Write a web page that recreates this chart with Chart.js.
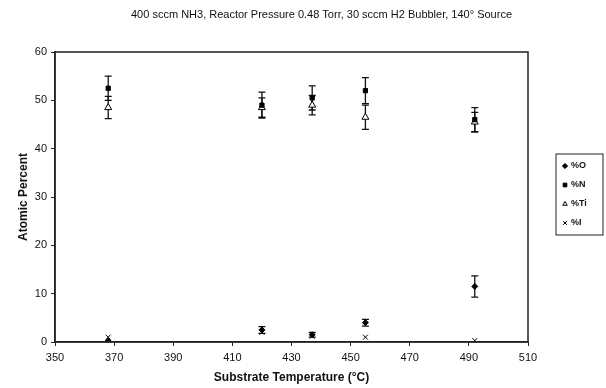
<!DOCTYPE html>
<html>
<head>
<meta charset="utf-8">
<script src="https://cdn.jsdelivr.net/npm/chart.js@4.4.0/dist/chart.umd.min.js"></script>
<style>
  body { margin: 0; background: #fff; }
  #wrap { width: 606px; height: 388px; }
</style>
</head>
<body>
<div id="wrap"><canvas id="chart" width="606" height="388"></canvas></div>
<script>
// Substrate temperatures (x) and composition values
const temps = [368, 420, 437, 455, 492];
const pctO = [0.2, 2.5, 1.5, 4.0, 11.5];
const errO = [0, 0.7, 0.5, 0.7, 2.2];
const pctN = [52.5, 49.0, 50.5, 52.0, 46.0];
const errN = [2.5, 2.7, 2.5, 2.7, 2.5];
const pctTi = [48.5, 48.5, 49.0, 46.5, 45.5];
const errTi = [2.3, 2.0, 2.0, 2.5, 2.0];
const pctI = [1.0, 2.0, 1.2, 1.0, 0.3];
const errI = [0, 0, 0, 0, 0];

const xTicks = [350, 370, 390, 410, 430, 450, 470, 490, 510];
const yTicks = [0, 10, 20, 30, 40, 50, 60];

const titleText = '400 sccm NH3, Reactor Pressure 0.48 Torr, 30 sccm H2 Bubbler, 140\u00b0 Source';
const xTitle = 'Substrate Temperature (\u00b0C)';
const yTitle = 'Atomic Percent';

const FONT = '"Liberation Sans", Arial, sans-serif';

function toPoints(vals) {
  return vals.map((v, i) => ({ x: temps[i], y: v }));
}

const seriesDefs = [
  { label: '%O', data: pctO, err: errO, style: 'rectRot', radius: 3, fill: '#000' },
  { label: '%N', data: pctN, err: errN, style: 'rect', radius: 3, fill: '#000' },
  { label: '%Ti', data: pctTi, err: errTi, style: 'triangle', radius: 4, fill: '#fff' },
  { label: '%I', data: pctI, err: errI, style: 'crossRot', radius: 3.5, fill: '#000' }
];

// error bars, frame, titles and legend box
const extras = {
  id: 'extras',
  beforeDatasetsDraw(chart) {
    const ctx = chart.ctx;
    const x = chart.scales.x, y = chart.scales.y;
    ctx.save();
    ctx.strokeStyle = '#111';
    ctx.lineWidth = 1.3;
    chart.data.datasets.forEach(ds => {
      ds.errors.forEach((e, i) => {
        if (!e) return;
        const px = x.getPixelForValue(ds.data[i].x);
        const top = y.getPixelForValue(ds.data[i].y + e);
        const bot = y.getPixelForValue(ds.data[i].y - e);
        ctx.beginPath();
        ctx.moveTo(px, top); ctx.lineTo(px, bot);
        ctx.moveTo(px - 3.5, top); ctx.lineTo(px + 3.5, top);
        ctx.moveTo(px - 3.5, bot); ctx.lineTo(px + 3.5, bot);
        ctx.stroke();
      });
    });
    ctx.restore();
  },
  afterDraw(chart) {
    const ctx = chart.ctx;
    const a = chart.chartArea;
    ctx.save();
    // plot frame
    ctx.strokeStyle = '#222';
    ctx.lineWidth = 1.5;
    ctx.strokeRect(a.left, a.top, a.right - a.left, a.bottom - a.top);

    ctx.fillStyle = '#111';
    ctx.textBaseline = 'middle';
    // chart title
    ctx.font = '11px ' + FONT;
    ctx.textAlign = 'left';
    ctx.fillText(titleText, 131, 15);
    // x title
    ctx.font = 'bold 12px ' + FONT;
    ctx.textAlign = 'center';
    ctx.fillText(xTitle, (a.left + a.right) / 2, 378);
    // y title
    ctx.save();
    ctx.translate(24, (a.top + a.bottom) / 2);
    ctx.rotate(-Math.PI / 2);
    ctx.fillText(yTitle, 0, 0);
    ctx.restore();

    // legend box
    const lx = 556, ly = 154, lw = 47, lh = 81;
    ctx.strokeStyle = '#222';
    ctx.lineWidth = 1;
    ctx.strokeRect(lx, ly, lw, lh);
    ctx.font = 'bold 9px ' + FONT;
    ctx.textAlign = 'left';
    seriesDefs.forEach((s, i) => {
      const cy = ly + 12 + i * 19;
      ctx.fillStyle = s.fill;
      ctx.strokeStyle = '#000';
      ctx.lineWidth = 1;
      Chart.helpers.drawPoint(ctx, { pointStyle: s.style, radius: 2.6, borderWidth: 1 }, lx + 9, cy);
      ctx.fillStyle = '#111';
      ctx.fillText(s.label, lx + 15, cy);
    });
    ctx.restore();
  }
};

new Chart(document.getElementById('chart'), {
  type: 'scatter',
  data: {
    datasets: seriesDefs.map(s => ({
      label: s.label,
      data: toPoints(s.data),
      errors: s.err,
      pointStyle: s.style,
      pointRadius: s.radius,
      pointHoverRadius: s.radius,
      backgroundColor: s.fill,
      borderColor: '#000',
      borderWidth: 1
    }))
  },
  options: {
    responsive: false,
    animation: false,
    layout: { padding: { top: 52, right: 78, left: 0, bottom: 0 } },
    plugins: {
      legend: { display: false },
      title: { display: false },
      tooltip: { enabled: false }
    },
    scales: {
      x: {
        type: 'linear',
        min: xTicks[0],
        max: xTicks[xTicks.length - 1],
        afterFit: s => { s.height = 46; },
        afterBuildTicks: s => { s.ticks = xTicks.map(v => ({ value: v })); },
        grid: { drawOnChartArea: false, drawTicks: true, tickLength: 4, color: '#222' },
        border: { color: '#222', width: 1.5 },
        ticks: { color: '#111', padding: 5, font: { family: FONT, size: 11 } }
      },
      y: {
        min: yTicks[0],
        max: yTicks[yTicks.length - 1],
        afterFit: s => { s.width = 55; },
        afterBuildTicks: s => { s.ticks = yTicks.map(v => ({ value: v })); },
        grid: { drawOnChartArea: false, drawTicks: true, tickLength: 4, color: '#222' },
        border: { color: '#222', width: 1.5 },
        ticks: { color: '#111', padding: 4, font: { family: FONT, size: 11 } }
      }
    }
  },
  plugins: [extras]
});
</script>
</body>
</html>
